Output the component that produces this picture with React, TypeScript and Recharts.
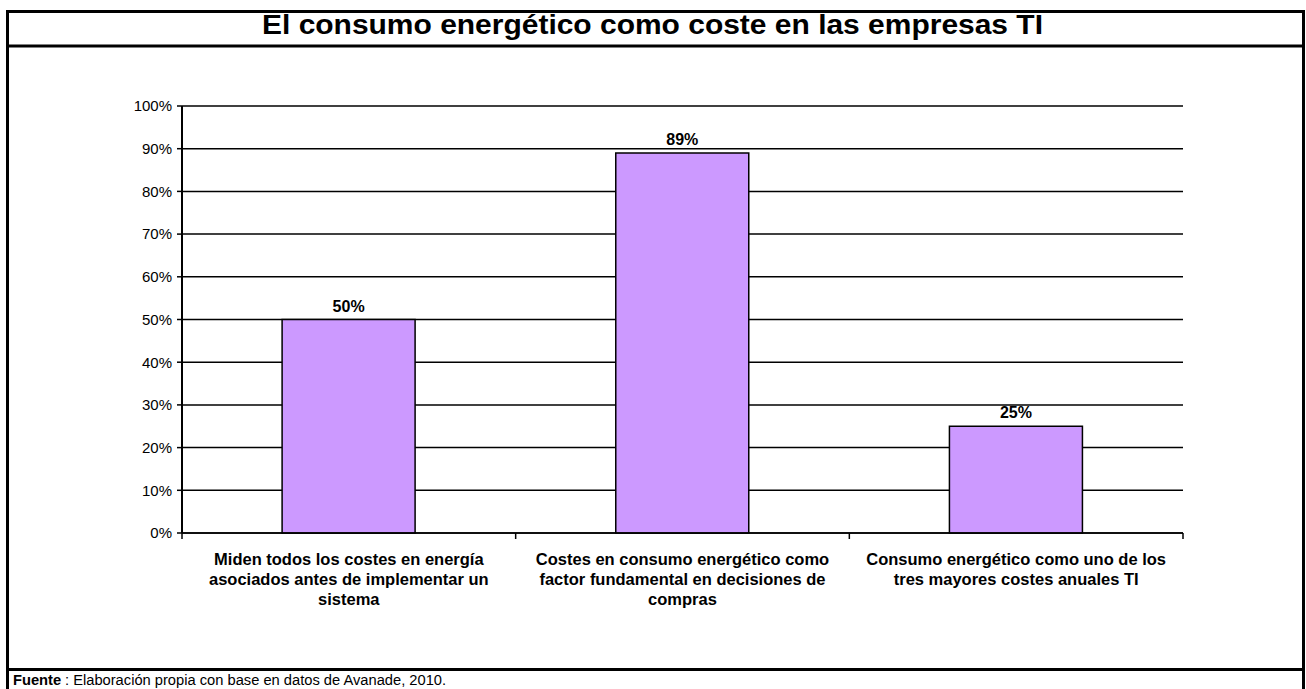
import React from "react"
import { BarChart, Bar, XAxis, YAxis, CartesianGrid, LabelList } from "recharts"

const categories = [
  ["Miden todos los costes en energía", "asociados antes de implementar un", "sistema"],
  ["Costes en consumo energético como", "factor fundamental en decisiones de", "compras"],
  ["Consumo energético como uno de los", "tres mayores costes anuales TI"],
]
const values = [50, 89, 25]
const yTicks = [0, 10, 20, 30, 40, 50, 60, 70, 80, 90, 100]

const title = "El consumo energético como coste en las empresas TI"
const sourceLabel = "Fuente"
const sourceText = ": Elaboración propia con base en datos de Avanade, 2010."

const data = categories.map((lines, i) => ({ name: lines.join(" "), lines, value: values[i] }))

const FONT = "'Liberation Sans', Arial, sans-serif"

function CategoryTick(props: any) {
  const { x, y, payload, index } = props
  const half = payload?.offset ?? 0
  const lines: string[] = data[index]?.lines ?? [String(payload.value)]
  return (
    <g>
      <line x1={x - half} y1={y} x2={x - half} y2={y + 6} stroke="#000" strokeWidth={1.5} />
      {index === data.length - 1 && (
        <line x1={x + half} y1={y} x2={x + half} y2={y + 6} stroke="#000" strokeWidth={1.5} />
      )}
      <text textAnchor="middle" fontFamily={FONT} fontWeight="bold" fontSize={16.5} fill="#000">
        {lines.map((l, i) => (
          <tspan key={i} x={x} y={y + 32 + i * 20}>{l}</tspan>
        ))}
      </text>
    </g>
  )
}

export default function App() {
  return (
    <div style={{ position: "fixed", left: 0, top: 0, width: 1306, height: 689, background: "#fff" }}>
      <BarChart
        width={1306}
        height={689}
        data={data}
        margin={{ top: 106, right: 123, left: 0, bottom: 56 }}
        barCategoryGap="30%"
      >
        <CartesianGrid vertical={false} stroke="#000" strokeWidth={1.5} />
        <XAxis
          dataKey="name"
          height={100}
          tickLine={false}
          tickSize={0}
          tickMargin={0}
          interval={0}
          axisLine={{ stroke: "#000", strokeWidth: 1.5 }}
          tick={<CategoryTick />}
        />
        <YAxis
          width={182}
          domain={[0, 100]}
          ticks={yTicks}
          tickFormatter={(v) => `${v}%`}
          tickSize={5}
          tickMargin={5}
          axisLine={{ stroke: "#000", strokeWidth: 2 }}
          tickLine={{ stroke: "#000", strokeWidth: 1.5 }}
          tick={{ fill: "#000", fontFamily: FONT, fontSize: 15 }}
        />
        <Bar dataKey="value" fill="#CC99FF" stroke="#000" strokeWidth={1.5} isAnimationActive={false}>
          <LabelList
            dataKey="value"
            position="top"
            offset={8}
            formatter={(v: any) => `${v}%`}
            style={{ fill: "#000", fontFamily: FONT, fontWeight: "bold", fontSize: 16 }}
          />
        </Bar>
      </BarChart>

      <svg
        width={1306}
        height={689}
        style={{ position: "absolute", left: 0, top: 0, pointerEvents: "none" }}
      >
        <g stroke="#000" strokeWidth={3}>
          <line x1={6} y1={11.5} x2={1305} y2={11.5} />
          <line x1={7.5} y1={10} x2={7.5} y2={689} />
          <line x1={1303.5} y1={10} x2={1303.5} y2={689} />
          <line x1={6} y1={46} x2={1305} y2={46} />
          <line x1={6} y1={669.5} x2={1305} y2={669.5} />
        </g>
        <text
          x={652.5}
          y={34}
          textAnchor="middle"
          fontFamily={FONT}
          fontWeight="bold"
          fontSize={28}
          textLength={781}
          lengthAdjust="spacingAndGlyphs"
        >
          {title}
        </text>
        <text x={13} y={685} fontFamily={FONT} fontWeight="bold" fontSize={14.7}>
          {sourceLabel}
        </text>
        <text x={65} y={685} fontFamily={FONT} fontSize={14.7}>
          {sourceText}
        </text>
      </svg>
    </div>
  )
}
